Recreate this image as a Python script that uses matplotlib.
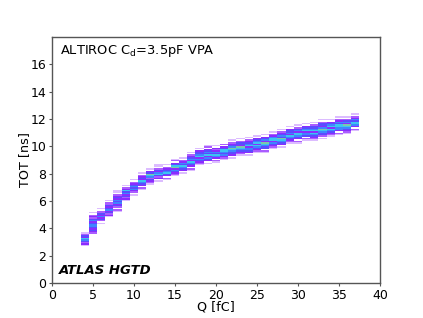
import numpy as np
import matplotlib
matplotlib.use("Agg")
import matplotlib.pyplot as plt
from matplotlib.colors import ListedColormap, BoundaryNorm

# Charge bins (fC), centred on integers
charges = list(range(4, 38))
# Lowest TOT row (ns) with entries for each charge column
tot_low = [2.7, 3.6, 4.3, 4.8, 5.2, 6.0, 6.4, 6.8, 7.2, 7.4, 7.5, 7.8, 8.0, 8.2, 8.6, 8.7, 8.8,
           9.0, 9.1, 9.3, 9.3, 9.5, 9.5, 9.8, 9.9, 10.2, 10.2, 10.4, 10.4, 10.5, 10.7, 10.8, 10.9, 11.1]
# Occupancy levels per 0.1 ns row, bottom to top (0 = empty)
levels = [
    "1324563421",
    "2343455435423201",
    "102435342201",
    "1324354342201",
    "1202435453432011",
    "132435463201",
    "102354543201",
    "1203456343201",
    "123425674301",
    "1032465342011",
    "120346543201",
    "1234537643021",
    "103456453201",
    "12034563543201",
    "1234536544301",
    "10345364543021",
    "1203564532301",
    "123545664302",
    "10344567543201",
    "1234567344201",
    "10345536543201",
    "1234563654301",
    "12044567354301",
    "1234536653201",
    "10345674543201",
    "1234563544301",
    "12034566354201",
    "1204553654301",
    "12345636544201",
    "102445675344201",
    "1234563654301",
    "12035566453201",
    "1234567354201",
    "1203566453201",
]

tot_step = 0.1
y_edges = np.round(np.arange(0, 18.0001, tot_step), 3)
x_edges = np.arange(charges[0] - 0.5, charges[-1] + 1.0, 1.0)
H = np.zeros((len(y_edges) - 1, len(charges)))
for j, (lo, s) in enumerate(zip(tot_low, levels)):
    i0 = int(round(lo / tot_step))
    for k, ch in enumerate(s):
        H[i0 + k, j] = int(ch)
Hm = np.ma.masked_equal(H, 0)

colors = ['#dcbcff', '#aa5cff', '#8a2cff', '#5a4cff', '#3f84ff', '#3cc4f0', '#7cc8a8']
cmap = ListedColormap(colors)
norm = BoundaryNorm(np.arange(0.5, 8.0, 1.0), cmap.N)

fig = plt.figure(figsize=(4.23, 3.18), dpi=100)
ax = fig.add_axes([0.123, 0.110, 0.775, 0.774])
ax.pcolormesh(x_edges, y_edges, Hm, cmap=cmap, norm=norm, shading='flat')

ax.set_xlim(0, 40)
ax.set_ylim(0, 18)
ax.set_xticks(range(0, 41, 5))
ax.set_yticks(range(0, 17, 2))
ax.tick_params(labelsize=9, length=2.5, width=0.8, color='#555555', pad=1.5)
for sp in ax.spines.values():
    sp.set_color('#555555')
    sp.set_linewidth(1.0)
ax.set_xlabel('Q [fC]', fontsize=9.2, labelpad=-1)
ax.set_ylabel('TOT [ns]', fontsize=9.2, labelpad=0)

ax.text(0.025, 0.975, r'ALTIROC C$_\mathregular{d}$=3.5pF VPA', transform=ax.transAxes,
        ha='left', va='top', fontsize=9.4)
ax.text(0.02, 0.025, 'ATLAS HGTD', transform=ax.transAxes, ha='left', va='bottom',
        fontsize=9.5, fontweight='bold', fontstyle='italic')

fig.savefig('out.png', dpi=100)
